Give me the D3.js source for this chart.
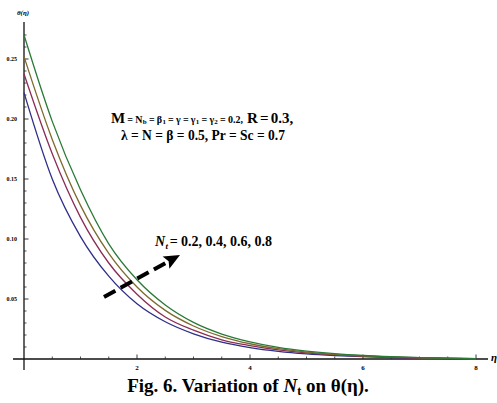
<!DOCTYPE html>
<html><head><meta charset="utf-8">
<script src="https://cdn.jsdelivr.net/npm/d3@7"></script>
<style>
html,body{margin:0;padding:0;background:#fff;}
svg{display:block;}
text{font-family:"Liberation Serif","Times New Roman",serif;}
</style></head>
<body>
<script>
// ---- data ----
const eta = [0, 0.5, 1, 1.5, 2, 2.5, 3, 3.5, 4, 4.5, 5, 5.5, 6, 6.5, 7, 7.5, 8];
const ntValues = ["0.2", "0.4", "0.6", "0.8"];
const theta02 = [0.222, 0.150, 0.102, 0.069, 0.046, 0.031, 0.021, 0.014, 0.0095, 0.0064, 0.0043, 0.0029, 0.0019, 0.0012, 0.0008, 0.0004, 0.0001];
const theta04 = [0.2375, 0.171, 0.118, 0.080, 0.054, 0.035, 0.024, 0.016, 0.0112, 0.0076, 0.0051, 0.0034, 0.0022, 0.0014, 0.0009, 0.0005, 0.0002];
const theta06 = [0.252, 0.183, 0.128, 0.088, 0.060, 0.0405, 0.0275, 0.0187, 0.0127, 0.0086, 0.0058, 0.0039, 0.0026, 0.0017, 0.0010, 0.0006, 0.0002];
const theta08 = [0.270, 0.198, 0.141, 0.096, 0.066, 0.045, 0.0305, 0.0208, 0.0143, 0.0097, 0.0066, 0.0044, 0.0029, 0.0019, 0.0012, 0.0007, 0.0003];
const xMajor = [2, 4, 6, 8];
const yMajor = [0.05, 0.10, 0.15, 0.20, 0.25];
const yTickLabels = ["0.05", "0.10", "0.15", "0.20", "0.25"];
const colors = ["#2e2e88", "#8a2c55", "#7d6a2c", "#2a7a36"];

const W = 497, H = 403;
const svg = d3.select("body").append("svg").attr("width", W).attr("height", H);

const x = d3.scaleLinear().domain([0, 8]).range([24, 476]);
const y = d3.scaleLinear().domain([0, 0.25]).range([359, 59]);

// axes lines
svg.append("line").attr("x1", 13).attr("x2", 488).attr("y1", y(0)).attr("y2", y(0))
  .attr("stroke", "#111").attr("stroke-width", 1.3);
svg.append("line").attr("x1", x(0)).attr("x2", x(0)).attr("y1", 22).attr("y2", 370)
  .attr("stroke", "#111").attr("stroke-width", 1.3);

// x ticks (inward = up)
const xMinor = d3.range(0.5, 8.01, 0.5).filter(v => Math.abs(v % 2) > 1e-6);
svg.selectAll(".xmin").data(xMinor).enter().append("line")
  .attr("x1", d => x(d)).attr("x2", d => x(d)).attr("y1", y(0)).attr("y2", y(0) - 2.5)
  .attr("stroke", "#222").attr("stroke-width", 0.8);
svg.selectAll(".xmaj").data(xMajor).enter().append("line")
  .attr("x1", d => x(d)).attr("x2", d => x(d)).attr("y1", y(0)).attr("y2", y(0) - 4.5)
  .attr("stroke", "#222").attr("stroke-width", 0.9);
svg.selectAll(".xl").data(xMajor).enter().append("text")
  .attr("x", d => x(d)).attr("y", 370).attr("text-anchor", "middle")
  .attr("font-size", 7).attr("font-weight", "bold").text(d => d);

// y ticks (inward = right)
const yMinor = d3.range(0.01, 0.2701, 0.01).filter(v => Math.abs(Math.round(v * 100) % 5) !== 0);
svg.selectAll(".ymin").data(yMinor).enter().append("line")
  .attr("x1", x(0)).attr("x2", x(0) + 2.5).attr("y1", d => y(d)).attr("y2", d => y(d))
  .attr("stroke", "#222").attr("stroke-width", 0.8);
svg.selectAll(".ymaj").data(yMajor).enter().append("line")
  .attr("x1", x(0)).attr("x2", x(0) + 4.5).attr("y1", d => y(d)).attr("y2", d => y(d))
  .attr("stroke", "#222").attr("stroke-width", 0.9);
svg.selectAll(".yl").data(yMajor).enter().append("text")
  .attr("x", 17).attr("y", d => y(d) + 2).attr("text-anchor", "end")
  .attr("font-size", 6).attr("font-weight", "bold").text((d, i) => yTickLabels[i]);

// axis labels
svg.append("text").attr("x", 23).attr("y", 15).attr("text-anchor", "middle")
  .attr("font-size", 7).attr("font-style", "italic").attr("font-weight", "bold").text("θ(η)");
svg.append("text").attr("x", 491).attr("y", 361)
  .attr("font-size", 11).attr("font-style", "italic").attr("font-weight", "bold").text("η");

// curves
const line = d3.line().x(d => x(d[0])).y(d => y(d[1])).curve(d3.curveMonotoneX);
[theta02, theta04, theta06, theta08].forEach((s, i) => {
  svg.append("path").datum(eta.map((e, j) => [e, s[j]]))
    .attr("d", line).attr("fill", "none").attr("stroke", colors[i]).attr("stroke-width", 1.3);
});

// annotation block line 1: separate pieces placed side by side
const base1 = 122.5;
const pieces = [
  ["M", 15, 0], ["=", 10, 0], ["N", 10, 0], ["b", 7, 1.3], ["=", 10, 0], ["β", 10, 0], ["1", 7, 1.3],
  ["=", 10, 0], ["γ", 10, 0], ["=", 10, 0], ["γ", 10, 0], ["1", 7, 1.3], ["=", 10, 0], ["γ", 10, 0], ["2", 7, 1.3],
  ["=", 10, 0], ["0.2,", 10, 0], ["R", 15, 0], ["=", 15, 0], ["0.3,", 15, 0]
];
let cx = 111;
pieces.forEach((p, i) => {
  const t = svg.append("text").attr("x", cx).attr("y", base1 + p[2])
    .attr("font-weight", "bold").attr("font-size", p[1]).text(p[0]);
  const w = t.node().getComputedTextLength();
  let g = 0.6;
  const next = pieces[i + 1];
  if (p[0] === "=" || (next && next[0] === "=")) g = 2.2;
  if (p[0] === "0.2,") g = 4;
  if (next && next[2] > 0) g = 0.3;
  cx += w + g;
});

svg.append("text").attr("x", 121).attr("y", 139.5).attr("font-weight", "bold").attr("font-size", 14.5)
  .attr("textLength", 164).attr("lengthAdjust", "spacingAndGlyphs")
  .text("λ = N = β = 0.5, Pr = Sc = 0.7");

// N_t label
const tn = svg.append("text").attr("x", 155).attr("y", 246).attr("font-weight", "bold")
  .attr("font-size", 14).attr("font-style", "italic").text("N");
const wn = tn.node().getComputedTextLength();
svg.append("text").attr("x", 155 + wn + 0.3).attr("y", 249).attr("font-weight", "bold")
  .attr("font-size", 9).attr("font-style", "italic").text("t");
svg.append("text").attr("x", 155 + wn + 4.5).attr("y", 246).attr("font-weight", "bold")
  .attr("font-size", 14).text("= " + ntValues.join(", "));

// dashed arrow
const ax0 = 104, ay0 = 297, ax1 = 180, ay1 = 255;
const ang = Math.atan2(ay1 - ay0, ax1 - ax0);
const hl = 16, hw = 7;
const bx = ax1 - hl * Math.cos(ang), by = ay1 - hl * Math.sin(ang);
svg.append("line").attr("x1", ax0).attr("y1", ay0).attr("x2", bx + 2 * Math.cos(ang)).attr("y2", by + 2 * Math.sin(ang))
  .attr("stroke", "#000").attr("stroke-width", 4).attr("stroke-dasharray", "13,6");
svg.append("path").attr("d", `M${ax1},${ay1} L${bx - hw * Math.sin(ang)},${by + hw * Math.cos(ang)} L${bx + 3 * Math.cos(ang)},${by + 3 * Math.sin(ang)} L${bx + hw * Math.sin(ang)},${by - hw * Math.cos(ang)} Z`)
  .attr("fill", "#000");

// caption
const cap = svg.append("text").attr("x", 248).attr("y", 392).attr("text-anchor", "middle")
  .attr("font-weight", "bold").attr("font-size", 19);
cap.append("tspan").text("Fig. 6. Variation of ");
cap.append("tspan").attr("font-style", "italic").text("N");
cap.append("tspan").attr("font-size", 12).attr("dy", 3).text("t");
cap.append("tspan").attr("dy", -3).text(" on θ(η).");
</script>
</body></html>
